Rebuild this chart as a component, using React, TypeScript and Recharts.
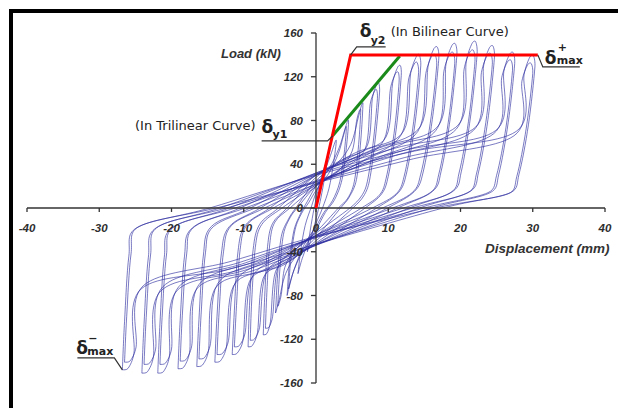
import { LineChart, Line, XAxis, YAxis, ReferenceLine, ReferenceDot } from 'recharts';

type Pt = [number, number];

// axis ticks
const xTicks = [-40, -30, -20, -10, 0, 10, 20, 30, 40];
const yTicks = [160, 120, 80, 40, 0, -40, -80, -120, -160];

// hysteresis cycles, displacement (mm) / load (kN)
const loop1: Pt[] = [[-1.2, -40], [-0.9, -25], [-0.4, -5], [0, 8], [0.5, 22], [1.0, 34], [1.5, 42], [1.2, 28], [0.7, 10], [0.2, -5], [-0.3, -18], [-0.8, -31], [-1.2, -40]];
const loop2: Pt[] = [[-2.5, -60], [-2.1, -38], [-1.5, -16], [-0.6, 2], [0, 14], [1.0, 30], [2.0, 48], [2.8, 62], [2.4, 40], [1.8, 18], [0.9, 0], [0, -14], [-1.0, -30], [-1.9, -46], [-2.5, -60]];
const loop3: Pt[] = [[-4, -80], [-3.7, -52], [-3.1, -22], [-2.2, -6], [-1.2, 6], [0, 20], [1.8, 36], [3.2, 55], [4.0, 72], [4.5, 80], [4.2, 55], [3.6, 26], [2.6, 8], [1.3, -4], [0, -20], [-1.6, -36], [-3.0, -56], [-3.7, -72], [-4, -80]];
const loop3b: Pt[] = [[-3.8, -74], [-3.5, -48], [-2.9, -20], [-2.0, -5], [-1.0, 5], [0, 16], [1.8, 32], [3.1, 50], [3.8, 66], [4.2, 74], [3.9, 50], [3.3, 24], [2.3, 7], [1.1, -4], [0, -17], [-1.6, -33], [-2.8, -52], [-3.5, -66], [-3.8, -74]];
const loop4: Pt[] = [[-5.6, -96], [-5.3, -60], [-4.8, -26], [-3.8, -10], [-2.8, 0], [0, 25], [2.8, 40], [4.8, 58], [5.9, 84], [6.3, 94], [6.5, 96], [6.2, 62], [5.6, 26], [4.6, 10], [3.4, 0], [0, -27], [-2.5, -42], [-4.2, -60], [-5.1, -84], [-5.5, -94], [-5.6, -96]];
const loop4b: Pt[] = [[-5.3, -90], [-5.0, -56], [-4.5, -24], [-3.6, -9], [-2.6, 0], [0, 20], [3.1, 34], [5.0, 52], [5.6, 79], [6.0, 89], [6.2, 90], [5.9, 58], [5.3, 24], [4.4, 9], [3.1, 0], [0, -22], [-2.7, -37], [-4.3, -54], [-4.8, -79], [-5.2, -89], [-5.3, -90]];
const loop5: Pt[] = [[-7.3, -116], [-7.1, -81], [-6.7, -35], [-6.0, -14], [-4.0, 0], [0, 28], [4.0, 45], [7.1, 57], [7.8, 100], [8.4, 112.9], [8.7, 114], [8.8, 106], [8.2, 63], [7.4, 25], [6.6, 11], [5.1, 0], [0, -30], [-3.3, -47], [-5.6, -58], [-6.3, -104], [-6.8, -114.8], [-7.3, -116]];
const loop5b: Pt[] = [[-7.0, -110], [-6.8, -77], [-6.4, -33], [-5.7, -13], [-3.6, 0], [0, 20], [3.8, 38], [6.8, 54], [7.5, 95], [8.1, 106.9], [8.4, 108], [8.5, 100], [7.9, 59], [7.1, 24], [6.3, 11], [4.7, 0], [0, -23], [-3.2, -40], [-5.3, -55], [-6.0, -99], [-6.5, -108.9], [-7.0, -110]];
const loop6: Pt[] = [[-9.4, -127], [-9.2, -89], [-8.7, -38], [-7.8, -15], [-5.2, 0], [0, 30], [5.3, 50], [9.7, 65], [10.6, 114], [11.3, 128.7], [11.7, 130], [11.8, 121], [11.1, 72], [10.0, 29], [9.1, 13], [6.8, 0], [0, -32], [-4.2, -51], [-7.3, -64], [-8.1, -114], [-8.8, -125.7], [-9.4, -127]];
const loop6b: Pt[] = [[-9.1, -121], [-8.9, -85], [-8.4, -36], [-7.5, -15], [-4.7, 0], [0, 21], [5.2, 42], [9.4, 62], [10.3, 109], [11.0, 122.8], [11.4, 124], [11.5, 115], [10.8, 68], [9.7, 27], [8.8, 12], [6.3, 0], [0, -25], [-4.1, -44], [-7.0, -61], [-7.8, -109], [-8.5, -119.8], [-9.1, -121]];
const loop7: Pt[] = [[-11.6, -134], [-11.3, -94], [-10.8, -40], [-9.8, -16], [-6.4, 0], [0, 30], [6.5, 52], [12.1, 70], [13.1, 123], [13.9, 138.6], [14.3, 140], [14.5, 130], [13.7, 77], [12.5, 31], [11.4, 14], [8.4, 0], [0, -33], [-5.2, -53], [-9.2, -67], [-10.1, -121], [-10.9, -132.7], [-11.6, -134]];
const loop7b: Pt[] = [[-11.3, -127], [-11.0, -89], [-10.5, -38], [-9.5, -15], [-5.9, 0], [0, 21], [6.4, 43], [11.8, 67], [12.8, 117], [13.6, 131.7], [14.0, 133], [14.2, 124], [13.4, 73], [12.2, 29], [11.1, 13], [7.8, 0], [0, -25], [-5.1, -45], [-8.9, -64], [-9.8, -114], [-10.6, -125.7], [-11.3, -127]];
const loop8: Pt[] = [[-14, -141], [-13.7, -99], [-13.1, -42], [-12.0, -17], [-7.7, 0], [0, 30], [7.7, 53], [14.4, 74], [15.5, 129], [16.3, 145.5], [16.8, 147], [17.0, 137], [16.1, 81], [14.8, 32], [13.6, 15], [9.9, 0], [0, -33], [-6.3, -55], [-11.4, -71], [-12.4, -127], [-13.2, -139.6], [-14, -141]];
const loop8b: Pt[] = [[-13.7, -134], [-13.4, -94], [-12.8, -40], [-11.7, -16], [-7.1, 0], [0, 22], [7.5, 46], [14.1, 70], [15.2, 123], [16.0, 138.6], [16.5, 140], [16.7, 130], [15.8, 77], [14.5, 31], [13.3, 14], [9.2, 0], [0, -25], [-6.2, -47], [-11.1, -67], [-12.1, -121], [-12.9, -132.7], [-13.7, -134]];
const loop9: Pt[] = [[-16.5, -145], [-16.2, -102], [-15.6, -44], [-14.5, -17], [-9.1, 0], [0, 31], [8.8, 55], [16.9, 75], [18.0, 132], [18.8, 148.5], [19.3, 150], [19.5, 140], [18.6, 83], [17.3, 33], [16.1, 15], [11.3, 0], [0, -34], [-7.4, -57], [-13.9, -73], [-14.9, -131], [-15.7, -143.5], [-16.5, -145]];
const loop9b: Pt[] = [[-16.2, -138], [-15.9, -97], [-15.3, -41], [-14.2, -17], [-8.4, 0], [0, 22], [8.6, 46], [16.6, 71], [17.7, 125], [18.5, 140.6], [19.0, 142], [19.2, 132], [18.3, 78], [17.0, 31], [15.8, 14], [10.6, 0], [0, -26], [-7.3, -48], [-13.6, -69], [-14.6, -124], [-15.4, -136.6], [-16.2, -138]];
const loop10: Pt[] = [[-19.1, -147], [-18.8, -103], [-18.2, -44], [-17.1, -18], [-10.5, 0], [0, 32], [10.0, 56], [19.7, 76], [20.8, 134], [21.6, 150.5], [22.1, 152], [22.3, 141], [21.4, 84], [20.1, 33], [18.9, 15], [12.9, 0], [0, -34], [-8.6, -57], [-16.5, -74], [-17.5, -132], [-18.3, -145.5], [-19.1, -147]];
const loop10b: Pt[] = [[-18.8, -140], [-18.5, -98], [-17.9, -42], [-16.8, -17], [-9.8, 0], [0, 24], [9.9, 48], [19.4, 72], [20.5, 127], [21.3, 142.6], [21.8, 144], [22.0, 134], [21.1, 79], [19.8, 32], [18.6, 14], [12.1, 0], [0, -26], [-8.5, -49], [-16.2, -70], [-17.2, -126], [-18.0, -138.6], [-18.8, -140]];
const loop11: Pt[] = [[-21.9, -151], [-21.6, -106], [-21.0, -45], [-19.9, -18], [-12.0, 0], [0, 32], [11.1, 55], [22.1, 74], [23.2, 130], [24.0, 146.5], [24.5, 148], [24.7, 138], [23.8, 81], [22.5, 33], [21.3, 15], [14.3, 0], [0, -34], [-9.9, -57], [-19.3, -76], [-20.3, -136], [-21.1, -149.5], [-21.9, -151]];
const loop11b: Pt[] = [[-21.6, -143], [-21.3, -100], [-20.7, -43], [-19.6, -17], [-11.2, 0], [0, 25], [11.0, 48], [21.8, 71], [22.9, 124], [23.7, 139.6], [24.2, 141], [24.4, 131], [23.5, 78], [22.2, 31], [21.0, 14], [13.4, 0], [0, -27], [-9.7, -50], [-19.0, -72], [-20.0, -129], [-20.8, -141.6], [-21.6, -143]];
const loop12: Pt[] = [[-24.1, -151], [-23.8, -106], [-23.2, -45], [-22.1, -18], [-13.3, 0], [0, 31], [12.4, 53], [24.9, 71], [26.0, 125], [26.8, 140.6], [27.3, 142], [27.5, 132], [26.6, 78], [25.3, 31], [24.1, 14], [16.0, 0], [0, -33], [-10.8, -57], [-21.5, -76], [-22.5, -136], [-23.3, -149.5], [-24.1, -151]];
const loop12b: Pt[] = [[-23.8, -143], [-23.5, -100], [-22.9, -43], [-21.8, -17], [-12.4, 0], [0, 24], [12.2, 46], [24.6, 68], [25.7, 119], [26.5, 133.6], [27.0, 135], [27.2, 126], [26.3, 74], [25.0, 30], [23.8, 14], [15.0, 0], [0, -27], [-10.7, -50], [-21.2, -72], [-22.2, -129], [-23.0, -141.6], [-23.8, -143]];
const loop13: Pt[] = [[-26.8, -148], [-26.5, -104], [-25.9, -44], [-24.8, -18], [-14.7, 0], [0, 30], [13.6, 52], [27.7, 70], [28.8, 122], [29.6, 138], [30.1, 139], [30.3, 129], [29.4, 76], [28.1, 31], [26.9, 14], [17.6, 0], [0, -33], [-12.1, -56], [-24.2, -74], [-25.2, -133], [-26.0, -146.5], [-26.8, -148]];
const loop13b: Pt[] = [[-26.5, -141], [-26.2, -99], [-25.6, -42], [-24.5, -17], [-13.8, 0], [0, 23], [13.5, 45], [27.4, 66], [28.5, 116], [29.3, 131], [29.8, 132], [30.0, 123], [29.1, 73], [27.8, 29], [26.6, 13], [16.5, 0], [0, -26], [-11.9, -49], [-23.9, -71], [-24.9, -127], [-25.7, -139.6], [-26.5, -141]];

const loops = [
  loop1, loop2, loop3, loop3b, loop4, loop4b, loop5, loop5b, loop6, loop6b, loop7, loop7b,
  loop8, loop8b, loop9, loop9b, loop10, loop10b, loop11, loop11b, loop12, loop12b, loop13, loop13b,
];

// idealised curves
const bilinear: Pt[] = [[0, 0], [4.8, 140], [30.7, 140]];
const trilinear: Pt[] = [[2.3, 66], [11.6, 139]];

const toPts = (l: Pt[]) => l.map(([x, y]) => ({ x, y }));

// smooth curve through the points (catmull-rom, handles clamped so sharp turns don't overshoot)
function smooth(context: any) {
  let pts: number[][] = [];
  const clamp = (dx: number, dy: number, max: number) => {
    const len = Math.hypot(dx, dy);
    return len > max && len > 0 ? [(dx * max) / len, (dy * max) / len] : [dx, dy];
  };
  return {
    areaStart() {},
    areaEnd() {},
    lineStart() { pts = []; },
    point(x: number, y: number) { pts.push([+x, +y]); },
    lineEnd() {
      if (!pts.length) return;
      context.moveTo(pts[0][0], pts[0][1]);
      for (let i = 0; i < pts.length - 1; i++) {
        const p0 = pts[i - 1] || pts[i];
        const p1 = pts[i];
        const p2 = pts[i + 1];
        const p3 = pts[i + 2] || p2;
        const seg = Math.hypot(p2[0] - p1[0], p2[1] - p1[1]) * 0.45;
        const t1 = clamp((p2[0] - p0[0]) / 6, (p2[1] - p0[1]) / 6, seg);
        const t2 = clamp((p3[0] - p1[0]) / 6, (p3[1] - p1[1]) / 6, seg);
        context.bezierCurveTo(p1[0] + t1[0], p1[1] + t1[1], p2[0] - t2[0], p2[1] - t2[1], p2[0], p2[1]);
      }
    },
  };
}

const tickFont = { fontFamily: 'Liberation Sans, Arial, sans-serif', fontWeight: 'bold', fontStyle: 'italic', fontSize: 11.5, fill: '#2e2e2e' } as const;
const noteFont = { fontFamily: 'DejaVu Sans, sans-serif', fontSize: 13, fill: '#222' } as const;
const deltaFont = { fontFamily: 'DejaVu Sans, sans-serif', fontWeight: 'bold', fontSize: 17, fill: '#222' } as const;
const subFont = { fontFamily: 'DejaVu Sans, sans-serif', fontWeight: 'bold', fontSize: 11, fill: '#222' } as const;
const lead = { stroke: '#333', strokeWidth: 1.2, fill: 'none' };

const XLabel = (t: number) => (p: any) => (
  <text x={p.cx} y={p.cy + 24} textAnchor="middle" {...tickFont}>{t}</text>
);
const YLabel = (t: number) => (p: any) => (
  <text x={p.cx - 13} y={p.cy + 4} textAnchor="end" {...tickFont}>{t}</text>
);

const Dy2 = (p: any) => (
  <g>
    <path d={`M${p.cx},${p.cy} L${p.cx + 6},${p.cy - 8} L${p.cx + 35},${p.cy - 8}`} {...lead} />
    <text x={p.cx + 9} y={p.cy - 18} {...deltaFont}>δ</text>
    <text x={p.cx + 20} y={p.cy - 11} {...subFont}>y2</text>
    <text x={p.cx + 40} y={p.cy - 19} {...noteFont}>(In Bilinear Curve)</text>
  </g>
);

const DmaxPos = (p: any) => (
  <g>
    <path d={`M${p.cx},${p.cy} L${p.cx + 5},${p.cy + 12} L${p.cx + 42},${p.cy + 12}`} {...lead} />
    <text x={p.cx + 7} y={p.cy + 9} {...deltaFont}>δ</text>
    <text x={p.cx + 20} y={p.cy - 4} {...subFont}>+</text>
    <text x={p.cx + 19} y={p.cy + 9} {...subFont}>max</text>
  </g>
);

const Dy1 = (p: any) => (
  <g>
    <path d={`M${p.cx},${p.cy} L${p.cx - 5},${p.cy + 5} L${p.cx - 71},${p.cy + 5}`} {...lead} />
    <text x={p.cx - 71} y={p.cy - 3} {...deltaFont}>δ</text>
    <text x={p.cx - 60} y={p.cy + 2} {...subFont}>y1</text>
    <text x={p.cx - 77} y={p.cy - 6} textAnchor="end" {...noteFont}>(In Trilinear Curve)</text>
  </g>
);

const DmaxNeg = (p: any) => (
  <g>
    <path d={`M${p.cx},${p.cy} L${p.cx - 8},${p.cy - 12} L${p.cx - 45},${p.cy - 12}`} {...lead} />
    <text x={p.cx - 46} y={p.cy - 16} {...deltaFont}>δ</text>
    <text x={p.cx - 34} y={p.cy - 28} {...subFont}>−</text>
    <text x={p.cx - 35} y={p.cy - 15} {...subFont}>max</text>
  </g>
);

export default function App() {
  return (
    <div style={{ position: 'absolute', left: 0, top: 0, width: 618, height: 408, background: '#fff', overflow: 'hidden' }}>
      <div style={{ position: 'absolute', left: 9, top: 9, width: 620, height: 410, borderLeft: '4px solid #000', borderTop: '4px solid #000' }} />
      <LineChart width={618} height={408} margin={{ top: 33, right: 13, bottom: 25, left: 27 }}>
        <XAxis type="number" dataKey="x" domain={[-40, 40]} allowDataOverflow hide />
        <YAxis type="number" dataKey="y" domain={[-160, 160]} allowDataOverflow hide />

        {loops.map((l, i) => (
          <Line key={i} data={toPts(l)} dataKey="y" type={smooth as any} stroke="#2c2ca0" strokeWidth={0.85}
            strokeOpacity={0.75} dot={false} activeDot={false} isAnimationActive={false} />
        ))}

        <ReferenceLine y={0} stroke="#333" strokeWidth={1.3} />
        <ReferenceLine x={0} stroke="#333" strokeWidth={1.3} />
        {xTicks.map((t) => (
          <ReferenceLine key={'xt' + t} segment={[{ x: t, y: 0 }, { x: t, y: -3.6 }]} stroke="#333" strokeWidth={1.3} />
        ))}
        {yTicks.map((t) => (
          <ReferenceLine key={'yt' + t} segment={[{ x: -0.7, y: t }, { x: 0, y: t }]} stroke="#333" strokeWidth={1.3} />
        ))}
        {xTicks.map((t) => (
          <ReferenceDot key={'xl' + t} x={t} y={0} r={0} shape={XLabel(t)} />
        ))}
        {yTicks.map((t) => (
          <ReferenceDot key={'yl' + t} x={0} y={t} r={0} shape={YLabel(t)} />
        ))}

        <Line data={toPts(trilinear)} dataKey="y" type="linear" stroke="#1a8a1a" strokeWidth={3}
          dot={false} activeDot={false} isAnimationActive={false} />
        <Line data={toPts(bilinear)} dataKey="y" type="linear" stroke="#ff0000" strokeWidth={3}
          dot={false} activeDot={false} isAnimationActive={false} />

        <ReferenceDot x={bilinear[1][0]} y={bilinear[1][1]} r={0} shape={Dy2} />
        <ReferenceDot x={bilinear[2][0]} y={bilinear[2][1]} r={0} shape={DmaxPos} />
        <ReferenceDot x={trilinear[0][0]} y={trilinear[0][1]} r={0} shape={Dy1} />
        <ReferenceDot x={loop13[0][0]} y={loop13[0][1]} r={0} shape={DmaxNeg} />
      </LineChart>
      <div style={{ position: 'absolute', left: 221, top: 46, font: 'italic bold 13px "Liberation Sans", Arial, sans-serif', color: '#333' }}>Load (kN)</div>
      <div style={{ position: 'absolute', left: 485, top: 241, font: 'italic bold 13.5px "Liberation Sans", Arial, sans-serif', color: '#333' }}>Displacement (mm)</div>
    </div>
  );
}
